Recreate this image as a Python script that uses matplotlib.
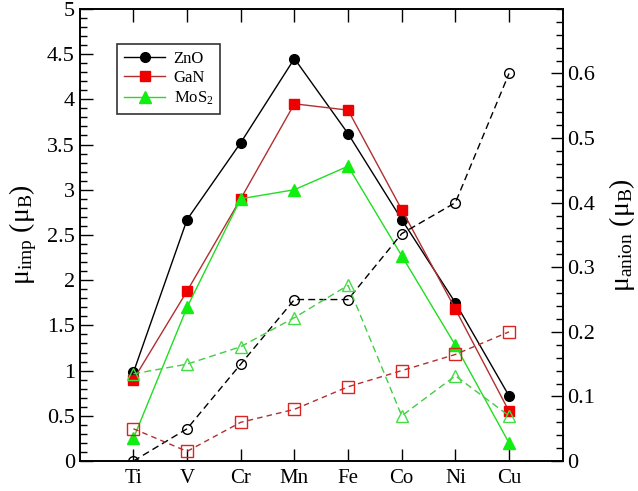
import matplotlib
matplotlib.use("Agg")
import matplotlib.pyplot as plt
from matplotlib.ticker import MultipleLocator

plt.rcParams['font.family'] = ['Liberation Serif', 'DejaVu Serif']
plt.rcParams['mathtext.fontset'] = 'custom'
plt.rcParams['mathtext.rm'] = 'Liberation Serif'
plt.rcParams['mathtext.it'] = 'Liberation Serif:italic'

elements = ["Ti", "V", "Cr", "Mn", "Fe", "Co", "Ni", "Cu"]
zno_imp = [0.98, 2.67, 3.52, 4.45, 3.62, 2.67, 1.75, 0.72]
gan_imp = [0.90, 1.88, 2.90, 3.95, 3.88, 2.78, 1.68, 0.55]
mos2_imp = [0.25, 1.70, 2.90, 3.00, 3.26, 2.27, 1.28, 0.20]
zno_anion = [0.0, 0.05, 0.15, 0.25, 0.25, 0.352, 0.40, 0.60]
gan_anion = [0.05, 0.015, 0.06, 0.08, 0.115, 0.14, 0.165, 0.20]
mos2_anion = [0.135, 0.15, 0.177, 0.222, 0.272, 0.07, 0.132, 0.07]

x = list(range(len(elements)))

fig = plt.figure(figsize=(6.38, 4.91), dpi=100)
ax = fig.add_axes([0.125, 0.061, 0.757, 0.921])
ax2 = ax.twinx()

red_line = "#b03030"
green = "#22dd22"

ax.plot(x, zno_imp, '-', color='black', lw=1, marker='o', ms=7, mfc='black', mec='black', label='ZnO', zorder=3)
ax.plot(x, gan_imp, '-', color=red_line, lw=1, marker='s', ms=7.5, mfc='#ee0000', mec='#ee0000', label='GaN', zorder=3)
ax.plot(x, mos2_imp, '-', color=green, lw=1, marker='^', ms=8.5, mfc='#11ee11', mec='#11ee11', label='MoS$_2$', zorder=3)

ax2.plot(x, zno_anion, '--', color='black', lw=1, dashes=(5, 3), marker='o', ms=7, mfc='none', mec='black', mew=1)
ax2.plot(x, gan_anion, '--', color=red_line, lw=1, dashes=(4, 3), marker='s', ms=8, mfc='none', mec='#dd2222', mew=1)
ax2.plot(x, mos2_anion, '--', color='#44cc44', lw=1, dashes=(5, 3), marker='^', ms=9, mfc='none', mec='#44dd44', mew=1)

ax.set_xlim(-1, 8)
ax.set_ylim(0, 5)
ax2.set_ylim(0, 0.7)

ax.set_xticks(x)
ax.set_xticklabels(elements, fontsize=15)
ax.yaxis.set_minor_locator(MultipleLocator(0.1))
ax.set_yticks([0, 0.5, 1, 1.5, 2, 2.5, 3, 3.5, 4, 4.5, 5])
ax.set_yticklabels(["0", "0.5", "1", "1.5", "2", "2.5", "3", "3.5", "4", "4.5", "5"], fontsize=16)
ax2.set_yticks([0, 0.1, 0.2, 0.3, 0.4, 0.5, 0.6])
ax2.set_yticklabels(["0", "0.1", "0.2", "0.3", "0.4", "0.5", "0.6"], fontsize=16)
ax2.yaxis.set_minor_locator(MultipleLocator(0.02))

ax.tick_params(axis='x', direction='in', top=True, length=9, width=1, pad=6)
ax.tick_params(axis='y', which='major', direction='in', length=9, width=1, right=False)
ax.tick_params(axis='y', which='minor', direction='in', length=5, width=1, right=False)
ax2.tick_params(axis='y', which='major', direction='in', length=9, width=1)
ax2.tick_params(axis='y', which='minor', direction='in', length=5, width=1)

for sp in ax.spines.values():
    sp.set_linewidth(1.2)
for sp in ax2.spines.values():
    sp.set_linewidth(1.2)

ax.set_ylabel("μ$_{\\rm imp}$ (μ$_{\\rm B}$)", fontsize=20, labelpad=6)
ax2.set_ylabel("μ$_{\\rm anion}$ (μ$_{\\rm B}$)", fontsize=20, labelpad=8)

leg = ax.legend(loc='upper left', bbox_to_anchor=(0.06, 0.94), fontsize=12, frameon=True,
                fancybox=False, edgecolor='black', handlelength=2.5, borderpad=0.4,
                labelspacing=0.2, handletextpad=0.5)
leg.get_frame().set_linewidth(1.2)

fig.savefig("out.png", dpi=100)
